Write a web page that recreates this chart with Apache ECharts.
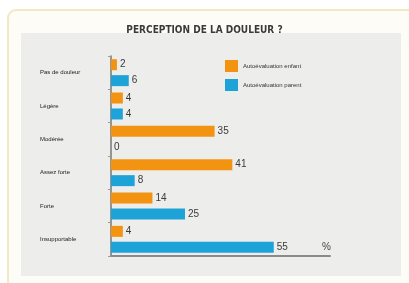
<!DOCTYPE html>
<html>
<head>
<meta charset="utf-8">
<script src="https://cdn.jsdelivr.net/npm/echarts@6/dist/echarts.min.js"></script>
<style>
  html, body { margin: 0; padding: 0; background: #fff; }
  #chart { width: 409px; height: 283px; }
</style>
</head>
<body>
<div id="chart"></div>
<script>
// categories, top to bottom
const categories = ['Pas de douleur', 'Légère', 'Modérée', 'Assez forte', 'Forte', 'Insupportable'];
const seriesNames = ['Autoévaluation enfant', 'Autoévaluation parent'];
const orangeValues = [2, 4, 35, 41, 14, 4];
const blueValues = [6, 4, 0, 8, 25, 55];

const chart = echarts.init(document.getElementById('chart'));

const labelStyle = {
  show: true,
  position: 'right',
  distance: 3,
  fontSize: 10,
  color: '#3a3a3a',
  fontFamily: 'Liberation Sans'
};

chart.setOption({
  backgroundColor: '#fff',
  animation: false,
  textStyle: { fontFamily: 'Liberation Sans' },
  graphic: [
    // cadre crème + panneau gris
    { type: 'rect', z: -10, shape: { x: 8, y: 10, width: 420, height: 290, r: 8 },
      style: { fill: '#fdfcf6', stroke: '#f3e8c4', lineWidth: 2 } },
    { type: 'rect', z: -9, shape: { x: 21, y: 33, width: 380, height: 243 },
      style: { fill: '#ededeb' } }
  ],
  title: {
    text: 'PERCEPTION DE LA DOULEUR ?',
    left: 'center',
    top: 20,
    textStyle: { fontSize: 10, fontWeight: 'bold', color: '#3a3a3a', fontFamily: 'DejaVu Sans Condensed' }
  },
  legend: {
    orient: 'vertical',
    left: 220,
    top: 55,
    itemWidth: 13,
    itemHeight: 12,
    itemGap: 7,
    icon: 'rect',
    textStyle: { fontSize: 6, color: '#333' },
    data: seriesNames
  },
  grid: { left: 111, top: 56, right: 79, bottom: 27, containLabel: false },
  xAxis: {
    type: 'value',
    min: 0,
    max: 74,
    name: '%',
    nameLocation: 'end',
    nameGap: -8,
    nameTextStyle: { fontSize: 10, color: '#444', verticalAlign: 'bottom', padding: [0, 0, 4, 0] },
    axisLine: { show: true, lineStyle: { color: '#8a8a8a', width: 2 } },
    axisTick: { show: false },
    axisLabel: { show: false },
    splitLine: { show: false }
  },
  yAxis: {
    type: 'category',
    inverse: true,
    data: categories,
    axisLine: { show: true, lineStyle: { color: '#777', width: 1.5 } },
    axisTick: { show: true, length: 3, lineStyle: { color: '#999' } },
    axisLabel: { align: 'left', margin: 71, fontSize: 6, color: '#222' }
  },
  series: [
    {
      name: seriesNames[0],
      type: 'bar',
      data: orangeValues,
      barWidth: 11,
      barGap: '45%',
      itemStyle: { color: '#f29412' },
      label: labelStyle
    },
    {
      name: seriesNames[1],
      type: 'bar',
      data: blueValues,
      barWidth: 11,
      itemStyle: { color: '#1da3d8' },
      label: labelStyle
    }
  ]
});
</script>
</body>
</html>
